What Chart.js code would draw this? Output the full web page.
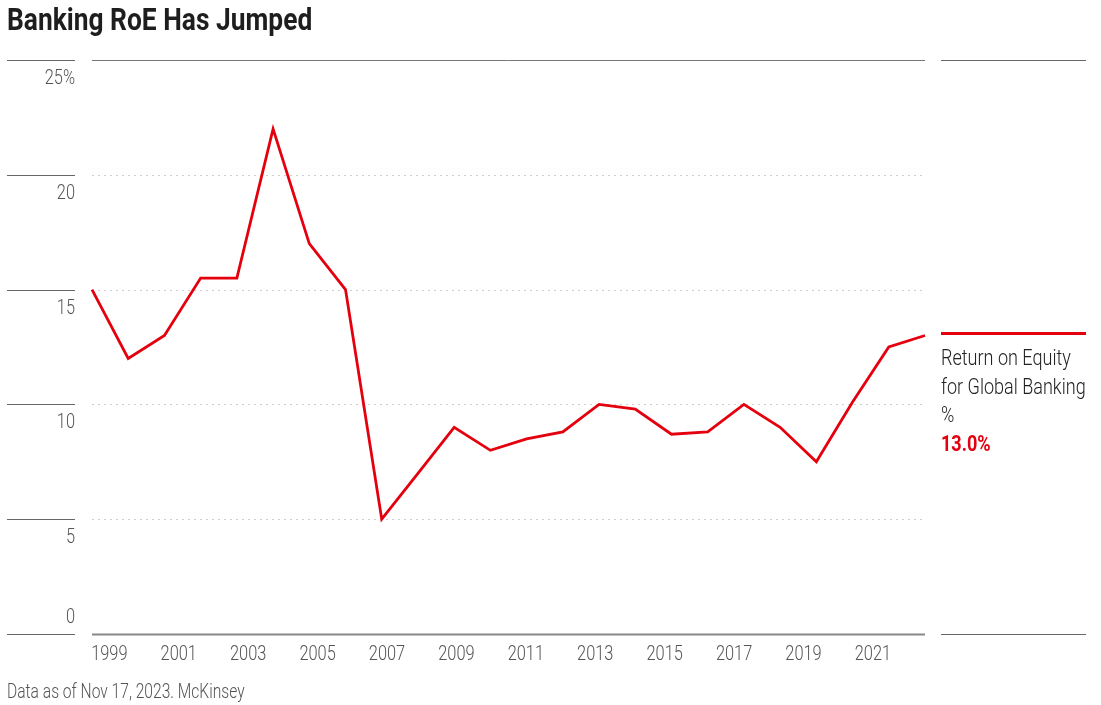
<!DOCTYPE html>
<html>
<head>
<meta charset="utf-8">
<script src="https://cdn.jsdelivr.net/npm/chart.js@4.4.0/dist/chart.umd.min.js"></script>
<style>
  html, body { margin: 0; padding: 0; background: #fff; }
  body { width: 1101px; height: 705px; position: relative; overflow: hidden;
         font-family: Roboto, "Liberation Sans", sans-serif; }
  #wrap { position: absolute; left: 0; top: 0; width: 1101px; height: 705px; }
  .narrow { position: absolute; white-space: nowrap; transform: scaleX(0.78); transform-origin: 0 0; }
  #title { left: 7px; top: 1px; font-size: 31px; font-weight: bold; color: #1e1e1e; transform: scaleX(0.85); }
  #footer { left: 7px; top: 679px; font-size: 20px; font-weight: 300; color: #555; }
  #legend { left: 941px; top: 344px; font-size: 22px; font-weight: 300; line-height: 28.5px; color: #222; transform: scaleX(0.82); }
  #legend .val { color: #e3000f; font-weight: bold; }
</style>
</head>
<body>
<div id="wrap"><canvas id="roe-chart"></canvas></div>
<div id="title" class="narrow">Banking RoE Has Jumped</div>
<div id="legend" class="narrow">
  <div>Return on Equity</div>
  <div>for Global Banking</div>
  <div>%</div>
  <div class="val" id="last-value"></div>
</div>
<div id="footer" class="narrow">Data as of Nov 17, 2023. McKinsey</div>
<script>
    // Return on equity for global banking, %
    const years = ['1999', '2000', '2001', '2002', '2003', '2004', '2005', '2006', '2007', '2008', '2009', '2010',
                   '2011', '2012', '2013', '2014', '2015', '2016', '2017', '2018', '2019', '2020', '2021', '2022'];
    const roe = [15.0, 12.0, 13.0, 15.5, 15.5, 22.0, 17.0, 15.0, 5.0, 7.0, 9.0, 8.0,
                 8.5, 8.8, 10.0, 9.8, 8.7, 8.8, 10.0, 9.0, 7.5, 10.1, 12.5, 13.0];

    // Tick labels
    const yTicks = [0, 5, 10, 15, 20, 25];
    const yTickLabels = ['0', '5', '10', '15', '20', '25%'];
    const xTickYears = [1999, 2001, 2003, 2005, 2007, 2009, 2011, 2013, 2015, 2017, 2019, 2021];

    const red = '#e5000e';
    const tickFont = '300 21px Roboto, "Liberation Sans", sans-serif';
    const squeeze = 0.78;

    document.getElementById('last-value').textContent = roe[roe.length - 1].toFixed(1) + '%';

    function hline(ctx, x1, x2, y, color, width, dash) {
        ctx.save();
        ctx.beginPath();
        ctx.strokeStyle = color;
        ctx.lineWidth = width;
        ctx.setLineDash(dash || []);
        ctx.moveTo(x1, y);
        ctx.lineTo(x2, y);
        ctx.stroke();
        ctx.restore();
    }

    // condensed text, like the original's narrow face
    function narrowText(ctx, text, x, y) {
        ctx.save();
        ctx.translate(x, y);
        ctx.scale(squeeze, 1);
        ctx.fillText(text, 0, 0);
        ctx.restore();
    }

    // Draws the axis rules, grid and tick labels from the chart's scales
    const framePlugin = {
        id: 'frame',
        beforeDatasetsDraw(chart) {
            const { ctx, chartArea: area, scales } = chart;
            const y = scales.y;
            const xYears = scales.xYears;

            ctx.save();
            ctx.font = tickFont;
            ctx.fillStyle = '#555';
            ctx.textAlign = 'right';
            ctx.textBaseline = 'middle';

            yTicks.forEach((v, i) => {
                const py = Math.round(y.getPixelForValue(v)) + 0.5;
                hline(ctx, 7, 75, py, '#666', 1);
                if (v === 0) {
                    hline(ctx, area.left, area.right, py, '#888', 2);
                    hline(ctx, 941, 1086, py, '#666', 1);
                    narrowText(ctx, yTickLabels[i], 75, py - 17);
                } else if (v === 25) {
                    hline(ctx, area.left, area.right, py, '#777', 1);
                    hline(ctx, 941, 1086, py, '#666', 1);
                    narrowText(ctx, yTickLabels[i], 75, py + 18);
                } else {
                    hline(ctx, area.left, area.right, py, '#cfcfcf', 1, [2, 4]);
                    narrowText(ctx, yTickLabels[i], 75, py + 18);
                }
            });

            // Series swatch at the last value
            const lastY = y.getPixelForValue(roe[roe.length - 1]) - 2;
            hline(ctx, 941, 1086, lastY, red, 2.8);

            ctx.textAlign = 'center';
            xTickYears.forEach(yr => {
                const px = xYears.getPixelForValue(yr + 0.5);
                narrowText(ctx, String(yr), px, area.bottom + 21);
            });
            ctx.restore();
        }
    };

    const roeChart = new Chart(document.getElementById('roe-chart'), {
        type: 'line',
        data: {
            labels: years,
            datasets: [{
                label: 'Return on Equity for Global Banking',
                data: roe,
                borderColor: red,
                borderWidth: 2.8,
                pointRadius: 0,
                tension: 0,
                fill: false
            }]
        },
        options: {
            responsive: true,
            maintainAspectRatio: false,
            animation: false,
            layout: {
                padding: { left: 92, right: 176, top: 60, bottom: 71 }
            },
            plugins: {
                legend: { display: false },
                tooltip: { enabled: false }
            },
            scales: {
                x: { type: 'category', display: false, offset: false },
                xYears: { type: 'linear', axis: 'x', display: false, min: 1999, max: 2023 },
                y: { display: false, min: 0, max: 25 }
            }
        },
        plugins: [framePlugin]
    });
</script>
</body>
</html>
